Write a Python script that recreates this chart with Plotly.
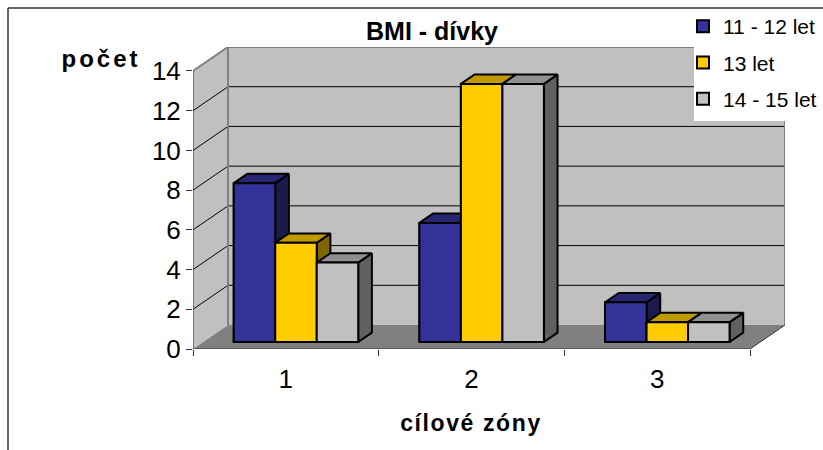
import plotly.graph_objects as go

categories = [1, 2, 3]
series_names = ["11 - 12 let", "13 let", "14 - 15 let"]
values_a = [8, 6, 2]
values_b = [5, 13, 1]
values_c = [4, 13, 1]
y_ticks = [0, 2, 4, 6, 8, 10, 12, 14]
front_colors = ["#333399", "#FFCC00", "#C0C0C0"]
top_colors = ["#262673", "#BF9900", "#909090"]
side_colors = ["#1A1A4D", "#7F6600", "#606060"]

W, H = 823, 450
L, R, T, B = 193, 38, 47, 101
DX = 0.1885      # depth shift, in category units
DY = 1.208       # depth shift, in value units
D0, D1 = 0.29, 0.68
BW = 0.2235
X0, X1 = 0.5, 3.5
YMAX = 14
FONT = "Liberation Sans"


def proj(x, v, d):
    return x + d * DX, v + d * DY


def path(points):
    return "M" + "L".join(f"{x:.4f},{y:.4f}" for x, y in points) + "Z"


def px(x):
    return (x - L) / (W - L - R)


def py(y):
    return (H - B - y) / (H - T - B)


def poly(points, fill, line=None, width=0):
    return dict(type="path", xref="x", yref="y", layer="below", path=path(points),
                fillcolor=fill, line=dict(color=line or fill, width=width))


def seg(a, b, color, width):
    return dict(type="line", xref="x", yref="y", layer="below", x0=a[0], y0=a[1], x1=b[0], y1=b[1],
                line=dict(color=color, width=width))


shapes = [
    poly([proj(X0, 0, 0), proj(X0, 0, 1), proj(X0, YMAX, 1), proj(X0, YMAX, 0)], "#C0C0C0"),
    poly([proj(X0, 0, 1), proj(X1, 0, 1), proj(X1, YMAX, 1), proj(X0, YMAX, 1)], "#C0C0C0"),
    poly([proj(X0, 0, 0), proj(X1, 0, 0), proj(X1, 0, 1), proj(X0, 0, 1)], "#808080"),
]
for t in y_ticks[1:-1]:
    shapes.append(seg(proj(X0, t, 0), proj(X0, t, 1), "#000000", 1))
    shapes.append(seg(proj(X0, t, 1), proj(X1, t, 1), "#000000", 1))
shapes += [
    seg(proj(X0, YMAX, 0), proj(X0, YMAX, 1), "#808080", 2),
    seg(proj(X0, YMAX, 1), proj(X1, YMAX, 1), "#808080", 2),
    seg(proj(X0, 0, 1), proj(X0, YMAX, 1), "#808080", 2),
    seg(proj(X1, 0, 1), proj(X1, YMAX, 1), "#808080", 2),
    seg(proj(X0, 0, 0), proj(X0, YMAX, 0), "#333333", 1),
    seg(proj(X0, 0, 0), proj(X1, 0, 0), "#333333", 1),
    seg(proj(X1, 0, 0), proj(X1, 0, 1), "#333333", 1),
    # legend backing and chart frame
    dict(type="rect", xref="paper", yref="paper", layer="above", x0=px(694), x1=px(823), y0=py(121), y1=py(9),
         fillcolor="#FFFFFF", line=dict(width=0)),
    dict(type="line", xref="paper", yref="paper", layer="above", x0=px(8), x1=px(8), y0=py(8), y1=py(450),
         line=dict(color="#333333", width=1.5)),
    dict(type="line", xref="paper", yref="paper", layer="above", x0=px(8), x1=px(823), y0=py(8), y1=py(8),
         line=dict(color="#333333", width=1.5)),
]

fig = go.Figure()
all_values = [values_a, values_b, values_c]

# real bars (also feed the legend)
for i, vals in enumerate(all_values):
    fig.add_trace(go.Bar(
        x=[c + (i - 1) * BW + D0 * DX for c in categories], y=vals, base=[D0 * DY] * len(vals), width=BW,
        name=series_names[i], marker=dict(color=front_colors[i], line=dict(color="#000000", width=2)),
        legendgroup=series_names[i], hoverinfo="skip",
    ))


def faces(builder, vals, i):
    xs, ys = [], []
    for c, v in zip(categories, vals):
        a = c + (i - 1.5) * BW
        for p in builder(a, a + BW, v):
            xs.append(p[0])
            ys.append(p[1])
        xs.append(None)
        ys.append(None)
    return xs, ys


def side(a, b, v):
    pts = [proj(b, 0, D0), proj(b, 0, D1), proj(b, v, D1), proj(b, v, D0)]
    return pts + pts[:1]


def top(a, b, v):
    pts = [proj(a, v, D0), proj(b, v, D0), proj(b, v, D1), proj(a, v, D1)]
    return pts + pts[:1]


def front(a, b, v):
    pts = [proj(a, 0, D0), proj(b, 0, D0), proj(b, v, D0), proj(a, v, D0)]
    return pts + pts[:1]


for i, vals in enumerate(all_values):
    for builder, col in ((side, side_colors[i]), (top, top_colors[i]), (front, front_colors[i])):
        xs, ys = faces(builder, vals, i)
        fig.add_trace(go.Scatter(x=xs, y=ys, mode="lines", fill="toself", fillcolor=col,
                                 line=dict(color="#000000", width=2), showlegend=False, hoverinfo="skip"))

fig.update_layout(
    width=W, height=H, margin=dict(l=L, r=R, t=T, b=B, autoexpand=False),
    paper_bgcolor="#FFFFFF", plot_bgcolor="rgba(0,0,0,0)", barmode="overlay", shapes=shapes,
    font=dict(family=FONT, color="#000000"),
    title=dict(text="<b>BMI - dívky</b>", x=432 / W, y=1 - 31 / H, xanchor="center", yanchor="middle",
               xref="container", yref="container", font=dict(size=25, family=FONT)),
    xaxis=dict(range=[X0, X1 + DX], tickvals=categories, ticktext=[str(c) for c in categories], ticks="",
               showgrid=False, zeroline=False, showline=False, tickfont=dict(size=26), ticklabelstandoff=12,
               minor=dict(tickvals=[0.5, 1.5, 2.5, 3.5], ticks="outside", ticklen=6, tickcolor="#333333",
                          tickwidth=1, showgrid=False)),
    yaxis=dict(range=[0, YMAX + DY], tickvals=y_ticks, ticks="outside", ticklen=6, tickcolor="#333333",
               showgrid=False, zeroline=False, showline=False, tickfont=dict(size=26)),
    legend=dict(x=px(683), y=py(6), xanchor="left", yanchor="top", bgcolor="rgba(0,0,0,0)", borderwidth=0,
                font=dict(size=21), tracegroupgap=6, itemclick=False, itemdoubleclick=False),
    annotations=[
        dict(text="<b>počet</b>", xref="paper", yref="paper", x=px(101), y=py(59), showarrow=False,
             xanchor="center", yanchor="middle", font=dict(size=24)),
        dict(text="<b>cílové zóny</b>", xref="paper", yref="paper", x=px(471), y=py(423), showarrow=False,
             xanchor="center", yanchor="middle", font=dict(size=23)),
    ],
)

fig.write_html("out.html", config={"displayModeBar": False},
               post_script="document.body.style.margin='0';document.body.style.overflow='hidden';"
                           "var a=document.querySelectorAll('.annotation-text');"
                           "a[0].style.letterSpacing='3px';a[1].style.letterSpacing='1.6px';")
